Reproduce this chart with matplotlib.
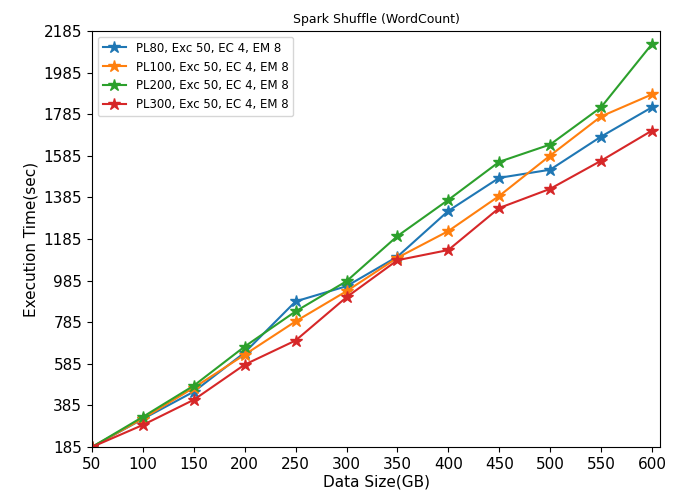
import matplotlib
matplotlib.use('Agg')
import matplotlib.pyplot as plt

sizes = [50, 100, 150, 200, 250, 300, 350, 400, 450, 500, 550, 600]
pl80 = [185, 320, 451, 639, 885, 958, 1100, 1320, 1479, 1518, 1677, 1818]
pl100 = [185, 322, 470, 629, 789, 934, 1095, 1223, 1392, 1586, 1774, 1880]
pl200 = [185, 330, 480, 668, 837, 982, 1199, 1373, 1556, 1639, 1818, 2122]
pl300 = [185, 291, 412, 581, 697, 905, 1083, 1132, 1334, 1426, 1561, 1706]
labels = ['PL80, Exc 50, EC 4, EM 8', 'PL100, Exc 50, EC 4, EM 8',
          'PL200, Exc 50, EC 4, EM 8', 'PL300, Exc 50, EC 4, EM 8']
yticks = list(range(185, 2186, 200))

fig = plt.figure(figsize=(6.84, 4.98), dpi=100)
ax = fig.add_axes([0.1345, 0.1024, 0.8305, 0.8354])

for vals, lab in zip([pl80, pl100, pl200, pl300], labels):
    ax.plot(sizes, vals, marker='*', markersize=9, linewidth=1.5, label=lab)

ax.set_xlim(50, 608)
ax.set_ylim(185, 2185)
ax.set_xticks(sizes)
ax.set_yticks(yticks)
ax.tick_params(labelsize=11)
ax.set_xlabel('Data Size(GB)', fontsize=11, labelpad=2)
ax.set_ylabel('Execution Time(sec)', fontsize=11)
ax.set_title('Spark Shuffle (WordCount)', fontsize=9)
ax.legend(loc='upper left', fontsize=8.5)

fig.savefig('out.png', dpi=100)
